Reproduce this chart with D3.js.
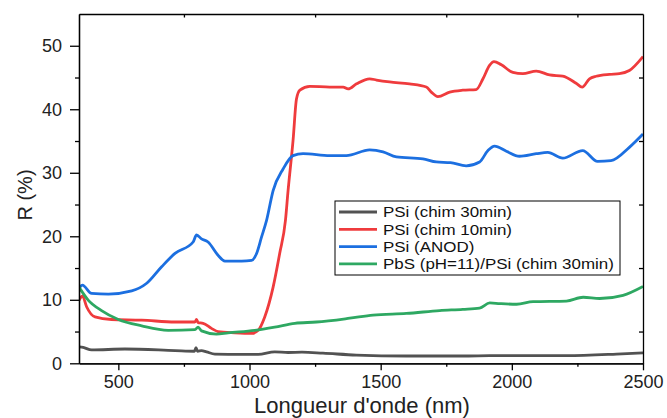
<!DOCTYPE html>
<meta charset="utf-8">
<script src="https://cdnjs.cloudflare.com/ajax/libs/d3/7.8.5/d3.min.js"></script>
<style>
	body {
	  margin: 0;
	  background: white;
	}
	svg#plot{
		width: 667px;
		height: 418px;
		font-family: "Liberation Sans", Arial, sans-serif;
	}
	.axis path, .axis line{
		stroke: black;
		stroke-width: 1.3px;
	}
	.axis text{
		font-size: 18px;
		fill: #222;
	}
</style>

<svg id="plot"></svg>

<script>

	// wavelength (nm) / reflectance (%)
	var gray_nm = [350, 366, 398, 525, 716, 790, 796, 802, 817, 836, 868, 970, 1033, 1096, 1147, 1200, 1280, 1407, 1598, 1827, 1915, 2208, 2399, 2500];
	var gray_R  = [2.6, 2.5, 2.1, 2.25, 2.0, 1.9, 2.45, 1.9, 2.0, 1.8, 1.45, 1.4, 1.4, 1.8, 1.7, 1.75, 1.6, 1.3, 1.15, 1.15, 1.2, 1.2, 1.45, 1.65];

	var red_nm = [350, 363, 379, 411, 474, 589, 716, 792, 798, 804, 823, 855, 880, 944, 1008, 1033, 1058, 1090, 1115, 1137, 1147, 1166, 1179, 1192, 1230, 1306, 1357, 1376, 1408, 1458, 1484, 1534, 1610, 1674, 1693, 1718, 1763, 1813, 1864, 1890, 1915, 1932, 1960, 2004, 2042, 2093, 2144, 2194, 2245, 2268, 2296, 2321, 2372, 2410, 2448, 2500];
	var red_R  = [9.9, 10.6, 8.9, 7.3, 6.9, 6.8, 6.5, 6.5, 6.9, 6.4, 6.3, 5.5, 5.0, 4.8, 4.7, 5.2, 7.3, 12.0, 17.3, 22.5, 27.2, 35.1, 41.6, 43.0, 43.6, 43.5, 43.5, 43.2, 44.0, 44.8, 44.6, 44.3, 44.0, 43.5, 42.7, 42.0, 42.7, 43.0, 43.1, 44.8, 46.9, 47.5, 47.0, 45.8, 45.6, 46.0, 45.4, 45.2, 44.1, 43.5, 44.8, 45.2, 45.5, 45.6, 46.1, 48.3];

	var blue_nm = [350, 363, 398, 462, 551, 608, 665, 716, 785, 798, 817, 842, 880, 906, 970, 1008, 1027, 1046, 1065, 1090, 1128, 1166, 1204, 1306, 1369, 1458, 1509, 1560, 1661, 1712, 1766, 1826, 1877, 1909, 1934, 1979, 2029, 2093, 2137, 2194, 2270, 2327, 2378, 2448, 2500];
	var blue_R  = [11.8, 12.3, 11.0, 10.9, 11.4, 12.6, 15.2, 17.3, 19.1, 20.2, 19.6, 19.1, 17.0, 16.1, 16.1, 16.2, 17.3, 19.9, 22.5, 27.2, 30.6, 32.7, 33.0, 32.7, 32.7, 33.6, 33.3, 32.5, 32.2, 31.7, 31.6, 31.1, 31.7, 33.5, 34.2, 33.4, 32.6, 33.0, 33.2, 32.3, 33.5, 31.8, 31.9, 34.0, 36.1];

	var green_nm = [350, 385, 436, 500, 589, 690, 792, 804, 817, 874, 918, 1020, 1096, 1173, 1255, 1382, 1471, 1598, 1725, 1813, 1877, 1916, 1954, 2018, 2081, 2208, 2272, 2335, 2424, 2500];
	var green_R  = [12.0, 9.95, 8.3, 6.9, 5.9, 5.2, 5.3, 5.7, 5.1, 4.6, 4.8, 5.2, 5.7, 6.3, 6.5, 7.1, 7.6, 7.85, 8.3, 8.5, 8.7, 9.5, 9.4, 9.3, 9.7, 9.8, 10.4, 10.2, 10.7, 12.1];

	var names  = ["PSi (chim 30min)", "PSi (chim 10min)", "PSi (ANOD)", "PbS (pH=11)/PSi (chim 30min)"];
	var colors = ["#525252", "#ef3b3d", "#1c6fe0", "#2ea862"];

	var x_major = [500, 1000, 1500, 2000, 2500],
		x_minor = [750, 1250, 1750, 2250],
		y_major = [0, 10, 20, 30, 40, 50],
		y_minor = [5, 15, 25, 35, 45];

	var zip = function(xs, ys){
		return xs.map(function(d, i){ return [d, ys[i]]; });
	}
	var series = [zip(gray_nm, gray_R), zip(red_nm, red_R), zip(blue_nm, blue_R), zip(green_nm, green_R)];

	// plot frame (pixels)
	var m_left = 79, m_right = 643, m_top = 14, m_bottom = 363.3;

	var x = d3.scaleLinear().domain([350, 2500]).range([m_left, m_right]),
		y = d3.scaleLinear().domain([0, 55]).range([m_bottom, m_top]);

	var svg = d3.select("#plot");

	var line = d3.line()
		.x(function(d){ return x(d[0]); })
		.y(function(d){ return y(d[1]); })
		.curve(d3.curveMonotoneX);

	svg.append("clipPath").attr("id", "clip")
		.append("rect").attr("x", m_left).attr("y", m_top).attr("width", m_right - m_left).attr("height", m_bottom - m_top);

	svg.append("g").attr("clip-path", "url(#clip)")
		.selectAll(".curve").data(series).enter()
		.append("path")
		.attr("class", "curve")
		.attr("d", line)
		.attr("fill", "none")
		.attr("stroke", function(d, i){ return colors[i]; })
		.attr("stroke-width", 2.8)
		.attr("stroke-linejoin", "round");

	// bottom axis, majors with labels + minors
	svg.append("g").attr("class", "axis").attr("transform", "translate(0," + m_bottom + ")")
		.call(d3.axisBottom(x).tickValues(x_major).tickSize(7).tickPadding(5).tickSizeOuter(0).tickFormat(d3.format("d")));
	svg.append("g").attr("class", "axis").attr("transform", "translate(0," + m_bottom + ")")
		.call(d3.axisBottom(x).tickValues(x_minor).tickSize(3.5).tickSizeOuter(0).tickFormat(""));

	// left axis
	svg.append("g").attr("class", "axis").attr("transform", "translate(" + m_left + ",0)")
		.call(d3.axisLeft(y).tickValues(y_major).tickSize(9).tickPadding(8).tickSizeOuter(0));
	svg.append("g").attr("class", "axis").attr("transform", "translate(" + m_left + ",0)")
		.call(d3.axisLeft(y).tickValues(y_minor).tickSize(4).tickSizeOuter(0).tickFormat(""));

	// mirrored top / right, minor ticks pointing in
	svg.append("g").attr("class", "axis").attr("transform", "translate(0," + m_top + ")")
		.call(d3.axisTop(x).tickValues(x_minor).tickSize(-3.5).tickSizeOuter(0).tickFormat(""));
	svg.append("g").attr("class", "axis").attr("transform", "translate(" + m_right + ",0)")
		.call(d3.axisRight(y).tickValues(y_minor).tickSize(-4).tickSizeOuter(0).tickFormat(""));

	svg.selectAll(".axis text").attr("font-family", "Liberation Sans, Arial, sans-serif");

	// axis titles
	svg.append("text")
		.attr("x", 362)
		.attr("y", 413)
		.attr("text-anchor", "middle")
		.style("font-size", "22px")
		.attr("fill", "#222")
		.text("Longueur d'onde (nm)");

	svg.append("text")
		.attr("transform", "translate(32," + y(26.5) + ") rotate(-90)")
		.attr("text-anchor", "middle")
		.style("font-size", "20px")
		.attr("fill", "#222")
		.text("R (%)");

	// legend (text a bit wide, like the original)
	var lg = svg.append("g").attr("transform", "translate(335,201)");
	lg.append("rect")
		.attr("width", 285).attr("height", 74)
		.attr("fill", "white").attr("stroke", "black").attr("stroke-width", 1);

	var rows = lg.selectAll(".row").data(names).enter()
		.append("g")
		.attr("transform", function(d, i){ return "translate(0," + (11 + i * 17.3) + ")"; });
	rows.append("line")
		.attr("x1", 4).attr("x2", 42)
		.attr("stroke", function(d, i){ return colors[i]; })
		.attr("stroke-width", 2.8);
	rows.append("text")
		.attr("transform", "translate(48,0) scale(1.13,1)")
		.attr("dy", "0.36em")
		.style("font-size", "15px")
		.attr("fill", "#111")
		.text(function(d){ return d; });

</script>
